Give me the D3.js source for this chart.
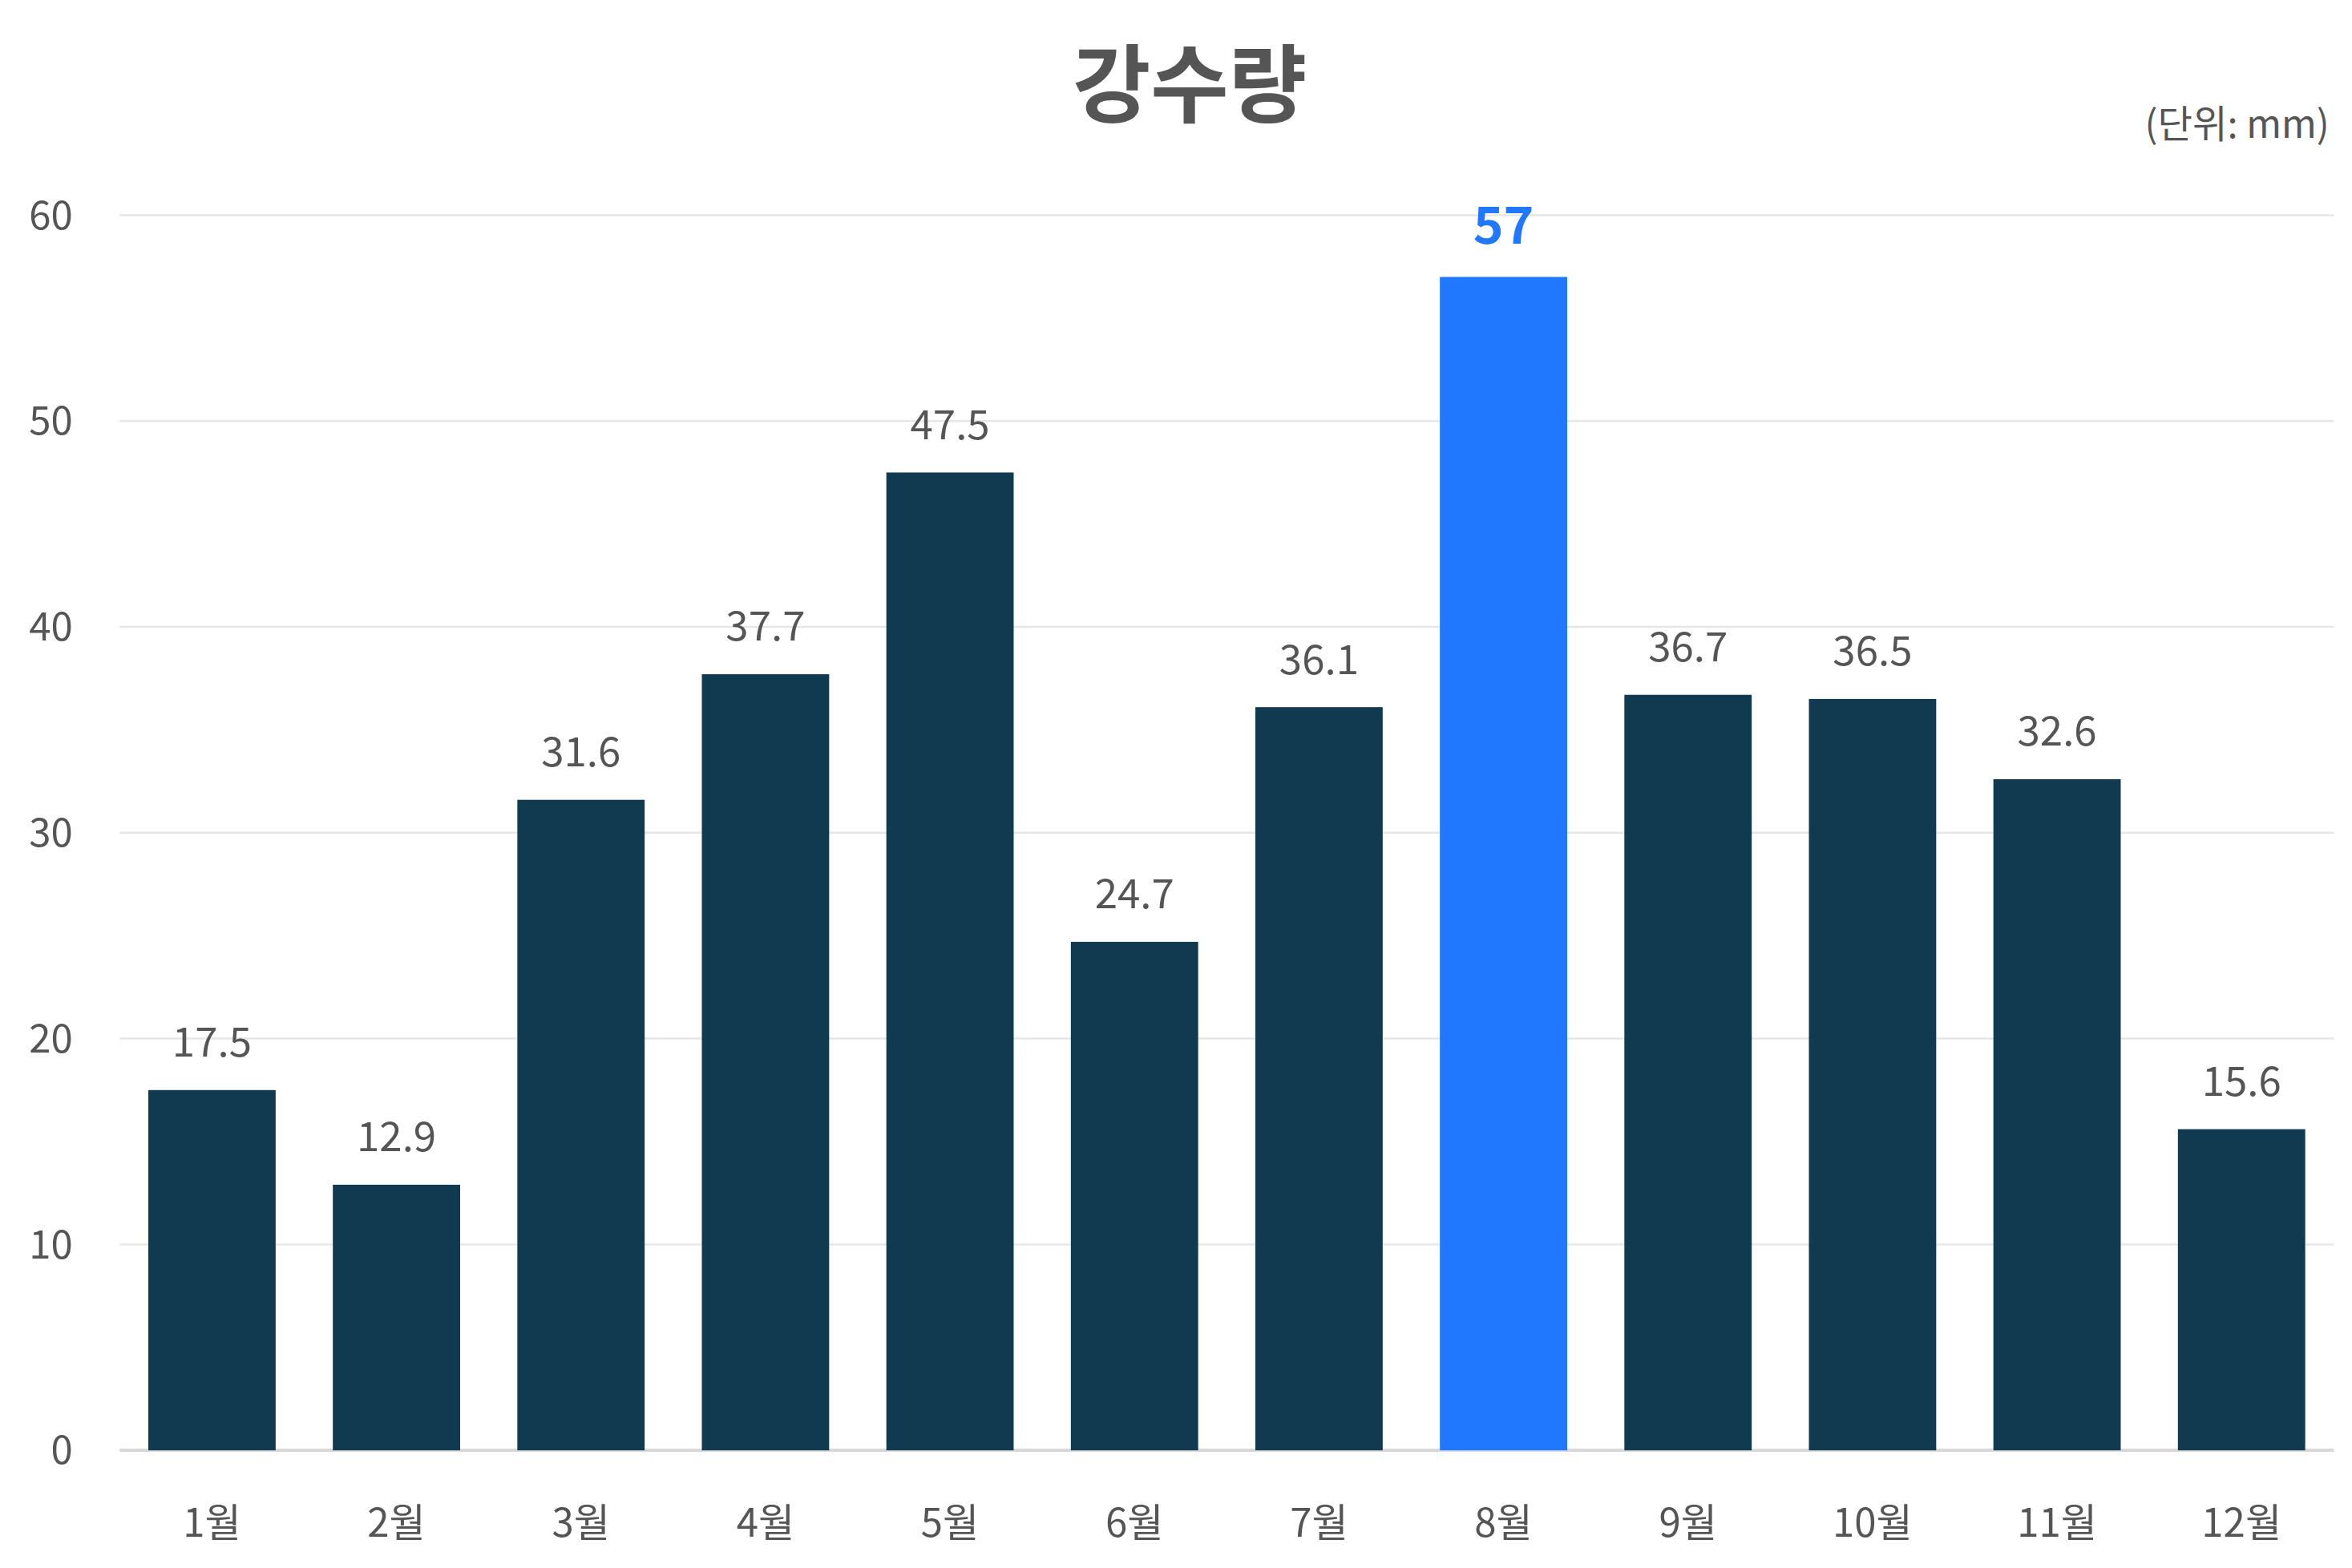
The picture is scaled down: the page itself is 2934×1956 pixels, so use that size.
<!DOCTYPE html>
<html>
<head>
<meta charset="utf-8">
<script src="https://cdn.jsdelivr.net/npm/d3@7"></script>
<style>
  body { margin: 0; background: #fff; }
  text { font-family: "Noto Sans CJK KR", "Noto Sans", sans-serif; fill: #555; }
</style>
</head>
<body>
<svg id="chart"></svg>
<script>
var months = ['1월', '2월', '3월', '4월', '5월', '6월', '7월', '8월', '9월', '10월', '11월', '12월'];
var rain = [17.5, 12.9, 31.6, 37.7, 47.5, 24.7, 36.1, 57, 36.7, 36.5, 32.6, 15.6];
var yTicks = [0, 10, 20, 30, 40, 50, 60];
var highlight = '8월';

// drawn in a 1552-wide coordinate space, scaled up to the window
var W = 1552, H = 1552 * 1956 / 2934;
var margin = {top: 142, left: 79, right: 12, bottom: H - 957};

var svg = d3.select('#chart')
    .attr('width', 2934)
    .attr('height', 1956)
    .attr('viewBox', '0 0 ' + W + ' ' + H);

var x = d3.scaleBand()
    .domain(months)
    .range([margin.left, W - margin.right])
    .paddingInner(0.31)
    .paddingOuter(0.155);

var y = d3.scaleLinear()
    .domain([0, 60])
    .range([957, margin.top]);

svg.append('g')
    .selectAll('line')
    .data(yTicks)
    .enter()
    .append('line')
    .attr('x1', margin.left)
    .attr('x2', W - margin.right)
    .attr('y1', function(d) { return y(d) })
    .attr('y2', function(d) { return y(d) })
    .attr('stroke', function(d) { return d === 0 ? '#d6d6d6' : '#e6e6e6' })
    .attr('stroke-width', function(d) { return d === 0 ? 2 : 1.3 });

svg.append('g')
    .selectAll('text')
    .data(yTicks)
    .enter()
    .append('text')
    .attr('x', 48)
    .attr('y', function(d) { return y(d) })
    .attr('dy', '0.35em')
    .attr('text-anchor', 'end')
    .attr('font-size', 26)
    .text(function(d) { return d });

svg.append('g')
    .selectAll('text')
    .data(months)
    .enter()
    .append('text')
    .attr('x', function(d) { return x(d) + x.bandwidth() / 2 })
    .attr('y', 1005)
    .attr('dy', '0.35em')
    .attr('text-anchor', 'middle')
    .attr('font-size', 26)
    .text(function(d) { return d });

var bars = svg.append('g')
    .selectAll('g')
    .data(months)
    .enter()
    .append('g');

bars.append('rect')
    .attr('x', function(d) { return x(d) })
    .attr('width', x.bandwidth())
    .attr('y', function(d, i) { return y(rain[i]) })
    .attr('height', function(d, i) { return y(0) - y(rain[i]) })
    .attr('fill', function(d) { return d === highlight ? '#1f78ff' : '#0f3a4f' });

bars.append('text')
    .attr('x', function(d) { return x(d) + x.bandwidth() / 2 })
    .attr('y', function(d, i) { return y(rain[i]) - 22 })
    .attr('text-anchor', 'middle')
    .attr('font-size', function(d) { return d === highlight ? 34 : 27 })
    .attr('font-weight', function(d) { return d === highlight ? 700 : 400 })
    .style('fill', function(d) { return d === highlight ? '#1f78ff' : '#555' })
    .text(function(d, i) { return rain[i] });

svg.append('text')
    .attr('x', 785)
    .attr('y', 76)
    .attr('text-anchor', 'middle')
    .attr('font-size', 56)
    .attr('font-weight', 700)
    .text('강수량');

svg.append('text')
    .attr('x', 1537)
    .attr('y', 91)
    .attr('text-anchor', 'end')
    .attr('font-size', 25)
    .text('(단위: mm)');
</script>
</body>
</html>
